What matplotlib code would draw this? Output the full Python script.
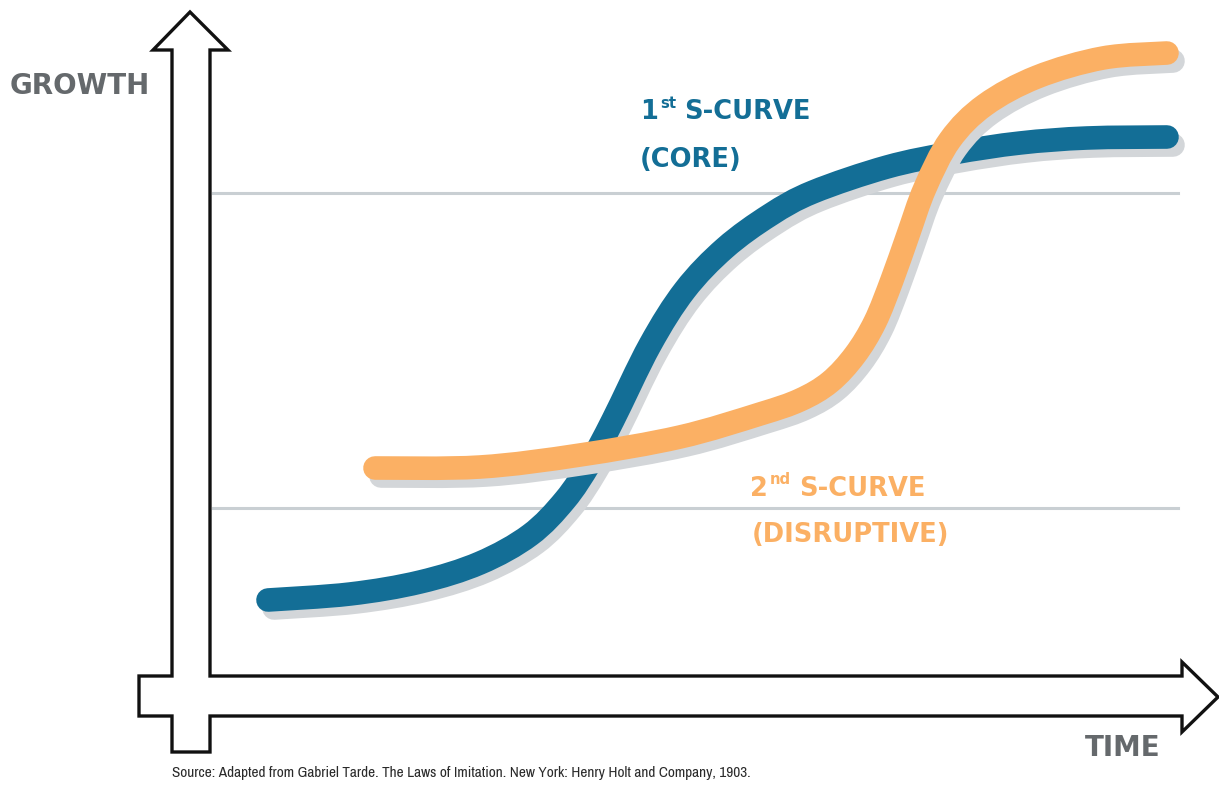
import matplotlib
matplotlib.use("Agg")
import matplotlib.pyplot as plt
from matplotlib.patches import Polygon, PathPatch
from matplotlib.path import Path
from matplotlib import font_manager

W, H = 1219, 787

# curve centre points, in canvas pixels (y grows downward)
core_x = [268, 350, 420, 480, 530, 565, 590, 613, 650, 685, 725, 770, 813, 887, 953, 1020, 1087, 1167]
core_y = [600, 594, 582, 563, 535, 500, 463, 420, 345, 290, 248, 215, 192, 167, 153, 143, 138, 137]

disr_x = [375, 480, 580, 680, 760, 800, 830, 855, 875, 892, 908, 925, 950, 985, 1037, 1103, 1167]
disr_y = [468, 467, 455, 437, 414, 400, 382, 355, 322, 280, 235, 188, 140, 105, 77, 58, 53]

# faint reference levels
level_y = [193, 508]

# outline of the two axis arrows joined into one shape
axes_outline_x = [190, 228, 210, 210, 1182, 1182, 1218, 1182, 1182, 210, 210, 172, 172, 139, 139, 172, 172, 153]
axes_outline_y = [12, 50, 50, 676, 676, 662, 697, 732, 716, 716, 752, 752, 716, 716, 676, 676, 50, 50]

BLUE = "#136e96"
ORANGE = "#fbb064"
SHADOW = "#d3d6d9"
GREY_TEXT = "#65696c"

installed = {f.name for f in font_manager.fontManager.ttflist}
narrow = next((n for n in sorted(installed) if "Narrow" in n or "Condensed" in n), "Liberation Sans")
hand = "DejaVu Sans"


def smooth_path(xs, ys, dx=0, dy=0):
    # Catmull-Rom through the points, handed to matplotlib as cubic Beziers
    pts = [(x + dx, y + dy) for x, y in zip(xs, ys)]
    verts = [pts[0]]
    codes = [Path.MOVETO]
    for i in range(len(pts) - 1):
        p0 = pts[max(i - 1, 0)]
        p1 = pts[i]
        p2 = pts[i + 1]
        p3 = pts[min(i + 2, len(pts) - 1)]
        c1 = (p1[0] + (p2[0] - p0[0]) / 6, p1[1] + (p2[1] - p0[1]) / 6)
        c2 = (p2[0] - (p3[0] - p1[0]) / 6, p2[1] - (p3[1] - p1[1]) / 6)
        verts += [c1, c2, p2]
        codes += [Path.CURVE4] * 3
    return Path(verts, codes)


def draw_curve(ax, xs, ys, color, z):
    ax.add_patch(PathPatch(smooth_path(xs, ys, 6, 8), facecolor="none", edgecolor=SHADOW,
                           lw=17, capstyle="round", joinstyle="round", zorder=z))
    ax.add_patch(PathPatch(smooth_path(xs, ys), facecolor="none", edgecolor=color,
                           lw=17, capstyle="round", joinstyle="round", zorder=z + 1))


def sup_label(ax, x, y, base, sup, rest, color, size):
    # "1st S-CURVE" style label: base digit, raised suffix, then the words
    r = ax.figure.canvas.get_renderer()
    t = ax.text(x, y, base, color=color, fontsize=size, family=hand,
                fontweight="bold", va="center", ha="left")
    x1 = t.get_window_extent(r).x1
    s = ax.text(x1 + 2, H - y + 9, sup, color=color, fontsize=size * 0.58, family=hand,
                fontweight="bold", va="center", ha="left", transform=None)
    x2 = s.get_window_extent(r).x1
    ax.text(x2 + 8, H - y, rest, color=color, fontsize=size, family=hand,
            fontweight="bold", va="center", ha="left", transform=None)


fig = plt.figure(figsize=(W / 100, H / 100), dpi=100)
ax = fig.add_axes([0, 0, 1, 1])
ax.set_xlim(0, W)
ax.set_ylim(H, 0)
ax.axis("off")

for y in level_y:
    ax.plot([213, 1178], [y, y], color="#c9cfd3", lw=2.2, zorder=1)

ax.add_patch(Polygon(list(zip(axes_outline_x, axes_outline_y)), closed=True,
                     facecolor="white", edgecolor="#111111", lw=2.4,
                     joinstyle="miter", zorder=2))

draw_curve(ax, core_x, core_y, BLUE, 3)
draw_curve(ax, disr_x, disr_y, ORANGE, 5)

ax.text(10, 86, "GROWTH", color=GREY_TEXT, fontsize=20, family=hand,
        fontweight="bold", va="center", ha="left")
ax.text(1085, 748, "TIME", color=GREY_TEXT, fontsize=20, family=hand,
        fontweight="bold", va="center", ha="left")

sup_label(ax, 640, 112, "1", "st", "S-CURVE", BLUE, 18.5)
ax.text(640, 160, "(CORE)", color=BLUE, fontsize=18.5, family=hand,
        fontweight="bold", va="center", ha="left")

sup_label(ax, 750, 489, "2", "nd", "S-CURVE", ORANGE, 18.5)
ax.text(752, 535, "(DISRUPTIVE)", color=ORANGE, fontsize=18.5, family=hand,
        fontweight="bold", va="center", ha="left")

ax.text(172, 773, "Source: Adapted from Gabriel Tarde. The Laws of Imitation. "
        "New York: Henry Holt and Company, 1903.", color="#2a2a2a",
        fontsize=11, family=narrow, va="center", ha="left")

fig.savefig("out.png", dpi=100, facecolor="white")
